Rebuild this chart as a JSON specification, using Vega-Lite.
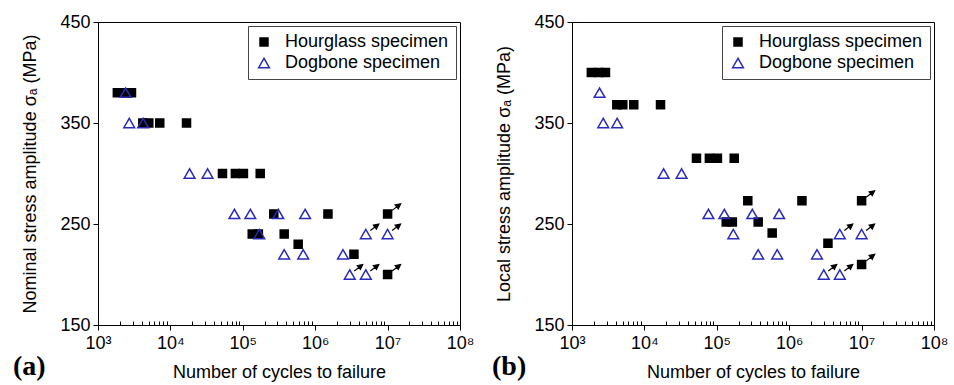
{
  "$schema": "https://vega.github.io/schema/vega-lite/v6.json",
  "background": "white",
  "padding": {"left": 12, "top": 12, "right": 0, "bottom": 0},
  "bounds": "flush",
  "spacing": 112,
  "config": {
    "font": "Liberation Sans",
    "view": {"stroke": "black", "strokeWidth": 1},
    "axis": {
      "grid": false,
      "domainColor": "black",
      "domainWidth": 1,
      "tickColor": "black",
      "labelColor": "black",
      "titleColor": "black",
      "labelFontSize": 18,
      "titleFontSize": 18,
      "titleFontWeight": "normal",
      "labelFont": "Liberation Sans",
      "titleFont": "Liberation Sans"
    },
    "legend": {
      "orient": "top-right",
      "offset": 4,
      "padding": 7,
      "rowPadding": 3,
      "strokeColor": "#444444",
      "fillColor": "white",
      "labelFontSize": 18,
      "labelFont": "Liberation Sans",
      "labelColor": "black",
      "labelOffset": 12,
      "labelLimit": 400,
      "symbolStrokeWidth": 1.5
    }
  },
  "datasets": {
    "pts": [
      {"N": 1850, "nominal": 380, "local": 400, "specimen": "Hourglass specimen", "runout": false},
      {"N": 2350, "nominal": 380, "local": 400, "specimen": "Hourglass specimen", "runout": false},
      {"N": 2900, "nominal": 380, "local": 400, "specimen": "Hourglass specimen", "runout": false},
      {"N": 4160, "nominal": 350, "local": 368, "specimen": "Hourglass specimen", "runout": false},
      {"N": 5030, "nominal": 350, "local": 368, "specimen": "Hourglass specimen", "runout": false},
      {"N": 7130, "nominal": 350, "local": 368, "specimen": "Hourglass specimen", "runout": false},
      {"N": 16700, "nominal": 350, "local": 368, "specimen": "Hourglass specimen", "runout": false},
      {"N": 52400, "nominal": 300, "local": 315, "specimen": "Hourglass specimen", "runout": false},
      {"N": 79000, "nominal": 300, "local": 315, "specimen": "Hourglass specimen", "runout": false},
      {"N": 102000, "nominal": 300, "local": 315, "specimen": "Hourglass specimen", "runout": false},
      {"N": 174000, "nominal": 300, "local": 315, "specimen": "Hourglass specimen", "runout": false},
      {"N": 268000, "nominal": 260, "local": 273, "specimen": "Hourglass specimen", "runout": false},
      {"N": 1500000, "nominal": 260, "local": 273, "specimen": "Hourglass specimen", "runout": false},
      {"N": 10000000, "nominal": 260, "local": 273, "specimen": "Hourglass specimen", "runout": true},
      {"N": 135000, "nominal": 240, "local": 252, "specimen": "Hourglass specimen", "runout": false},
      {"N": 164000, "nominal": 240, "local": 252, "specimen": "Hourglass specimen", "runout": false},
      {"N": 373000, "nominal": 240, "local": 252, "specimen": "Hourglass specimen", "runout": false},
      {"N": 582000, "nominal": 230, "local": 241, "specimen": "Hourglass specimen", "runout": false},
      {"N": 3430000, "nominal": 220, "local": 231, "specimen": "Hourglass specimen", "runout": false},
      {"N": 10000000, "nominal": 200, "local": 210, "specimen": "Hourglass specimen", "runout": true},
      {"N": 2400, "nominal": 380, "local": 380, "specimen": "Dogbone specimen", "runout": false},
      {"N": 2700, "nominal": 350, "local": 350, "specimen": "Dogbone specimen", "runout": false},
      {"N": 4200, "nominal": 350, "local": 350, "specimen": "Dogbone specimen", "runout": false},
      {"N": 18400, "nominal": 300, "local": 300, "specimen": "Dogbone specimen", "runout": false},
      {"N": 32600, "nominal": 300, "local": 300, "specimen": "Dogbone specimen", "runout": false},
      {"N": 76600, "nominal": 260, "local": 260, "specimen": "Dogbone specimen", "runout": false},
      {"N": 127000, "nominal": 260, "local": 260, "specimen": "Dogbone specimen", "runout": false},
      {"N": 309000, "nominal": 260, "local": 260, "specimen": "Dogbone specimen", "runout": false},
      {"N": 726000, "nominal": 260, "local": 260, "specimen": "Dogbone specimen", "runout": false},
      {"N": 169000, "nominal": 240, "local": 240, "specimen": "Dogbone specimen", "runout": false},
      {"N": 5000000, "nominal": 240, "local": 240, "specimen": "Dogbone specimen", "runout": true},
      {"N": 10000000, "nominal": 240, "local": 240, "specimen": "Dogbone specimen", "runout": true},
      {"N": 373000, "nominal": 220, "local": 220, "specimen": "Dogbone specimen", "runout": false},
      {"N": 683000, "nominal": 220, "local": 220, "specimen": "Dogbone specimen", "runout": false},
      {"N": 2420000, "nominal": 220, "local": 220, "specimen": "Dogbone specimen", "runout": false},
      {"N": 3000000, "nominal": 200, "local": 200, "specimen": "Dogbone specimen", "runout": true},
      {"N": 5000000, "nominal": 200, "local": 200, "specimen": "Dogbone specimen", "runout": true}
    ]
  },
  "resolve": {"legend": {"shape": "independent", "fill": "independent", "stroke": "independent", "size": "independent"}},
  "hconcat": [
    {
      "width": 362,
      "height": 303,
      "title": {"text": "(a)", "orient": "bottom", "anchor": "start", "frame": "group", "dx": -85, "offset": -28, "fontSize": 28, "fontWeight": "bold", "font": "Liberation Serif", "color": "black"},
      "data": {"name": "pts"},
      "layer": [
        {
          "mark": {"type": "point", "opacity": 1, "strokeWidth": 1.5},
          "encoding": {
            "x": {"field": "N", "type": "quantitative",
              "scale": {"type": "log", "domain": [1000, 100000000], "nice": false},
              "axis": {
                "title": "Number of cycles to failure",
                "values": [1000,2000,3000,4000,5000,6000,7000,8000,9000,10000,20000,30000,40000,50000,60000,70000,80000,90000,100000,200000,300000,400000,500000,600000,700000,800000,900000,1000000,2000000,3000000,4000000,5000000,6000000,7000000,8000000,9000000,10000000,20000000,30000000,40000000,50000000,60000000,70000000,80000000,90000000,100000000],
                "labelExpr": "abs(log(datum.value)/LN10 - round(log(datum.value)/LN10)) < 0.001 ? '10' + ['⁰','¹','²','³','⁴','⁵','⁶','⁷','⁸'][round(log(datum.value)/LN10)] : ''",
                "tickSize": {"condition": {"test": "abs(log(datum.value)/LN10 - round(log(datum.value)/LN10)) < 0.001", "value": 5}, "value": -4},
                "labelOverlap": false,
                "labelFlush": false,
                "labelPadding": 4,
                "titlePadding": 11
              }
            },
            "y": {"field": "nominal", "type": "quantitative",
              "scale": {"domain": [150, 450], "nice": false, "zero": false},
              "axis": {"title": "Nominal stress amplitude σₐ (MPa)", "values": [150, 250, 350, 450], "tickSize": 5, "labelPadding": 3, "titlePadding": 20}
            },
            "shape": {"field": "specimen", "type": "nominal", "scale": {"domain": ["Hourglass specimen", "Dogbone specimen"], "range": ["square", "triangle-up"]}, "legend": {"title": null}},
            "fill": {"field": "specimen", "type": "nominal", "scale": {"domain": ["Hourglass specimen", "Dogbone specimen"], "range": ["black", "transparent"]}, "legend": {"title": null}},
            "stroke": {"field": "specimen", "type": "nominal", "scale": {"domain": ["Hourglass specimen", "Dogbone specimen"], "range": ["black", "#2a2ab8"]}, "legend": {"title": null}},
            "size": {"field": "specimen", "type": "nominal", "scale": {"domain": ["Hourglass specimen", "Dogbone specimen"], "range": [64, 115]}, "legend": {"title": null}}
          }
        },
        {
          "transform": [{"filter": "datum.runout"}],
          "mark": {"type": "point", "shape": "M0.35,-0.27L0.75,-0.58M1,-0.77L0.82,-0.39L0.58,-0.69Z", "size": 676, "filled": true, "fill": "black", "stroke": "black", "strokeWidth": 1.2, "opacity": 1},
          "encoding": {
            "x": {"field": "N", "type": "quantitative"},
            "y": {"field": "nominal", "type": "quantitative"}
          }
        }
      ]
    },
    {
      "width": 362,
      "height": 303,
      "title": {"text": "(b)", "orient": "bottom", "anchor": "start", "frame": "group", "dx": -80, "offset": -28, "fontSize": 28, "fontWeight": "bold", "font": "Liberation Serif", "color": "black"},
      "data": {"name": "pts"},
      "layer": [
        {
          "mark": {"type": "point", "opacity": 1, "strokeWidth": 1.5},
          "encoding": {
            "x": {"field": "N", "type": "quantitative",
              "scale": {"type": "log", "domain": [1000, 100000000], "nice": false},
              "axis": {
                "title": "Number of cycles to failure",
                "values": [1000,2000,3000,4000,5000,6000,7000,8000,9000,10000,20000,30000,40000,50000,60000,70000,80000,90000,100000,200000,300000,400000,500000,600000,700000,800000,900000,1000000,2000000,3000000,4000000,5000000,6000000,7000000,8000000,9000000,10000000,20000000,30000000,40000000,50000000,60000000,70000000,80000000,90000000,100000000],
                "labelExpr": "abs(log(datum.value)/LN10 - round(log(datum.value)/LN10)) < 0.001 ? '10' + ['⁰','¹','²','³','⁴','⁵','⁶','⁷','⁸'][round(log(datum.value)/LN10)] : ''",
                "tickSize": {"condition": {"test": "abs(log(datum.value)/LN10 - round(log(datum.value)/LN10)) < 0.001", "value": 5}, "value": -4},
                "labelOverlap": false,
                "labelFlush": false,
                "labelPadding": 4,
                "titlePadding": 11
              }
            },
            "y": {"field": "local", "type": "quantitative",
              "scale": {"domain": [150, 450], "nice": false, "zero": false},
              "axis": {"title": "Local stress amplitude σₐ (MPa)", "values": [150, 250, 350, 450], "tickSize": 5, "labelPadding": 3, "titlePadding": 20}
            },
            "shape": {"field": "specimen", "type": "nominal", "scale": {"domain": ["Hourglass specimen", "Dogbone specimen"], "range": ["square", "triangle-up"]}, "legend": {"title": null}},
            "fill": {"field": "specimen", "type": "nominal", "scale": {"domain": ["Hourglass specimen", "Dogbone specimen"], "range": ["black", "transparent"]}, "legend": {"title": null}},
            "stroke": {"field": "specimen", "type": "nominal", "scale": {"domain": ["Hourglass specimen", "Dogbone specimen"], "range": ["black", "#2a2ab8"]}, "legend": {"title": null}},
            "size": {"field": "specimen", "type": "nominal", "scale": {"domain": ["Hourglass specimen", "Dogbone specimen"], "range": [64, 115]}, "legend": {"title": null}}
          }
        },
        {
          "transform": [{"filter": "datum.runout"}],
          "mark": {"type": "point", "shape": "M0.35,-0.27L0.75,-0.58M1,-0.77L0.82,-0.39L0.58,-0.69Z", "size": 676, "filled": true, "fill": "black", "stroke": "black", "strokeWidth": 1.2, "opacity": 1},
          "encoding": {
            "x": {"field": "N", "type": "quantitative"},
            "y": {"field": "local", "type": "quantitative"}
          }
        }
      ]
    }
  ]
}
